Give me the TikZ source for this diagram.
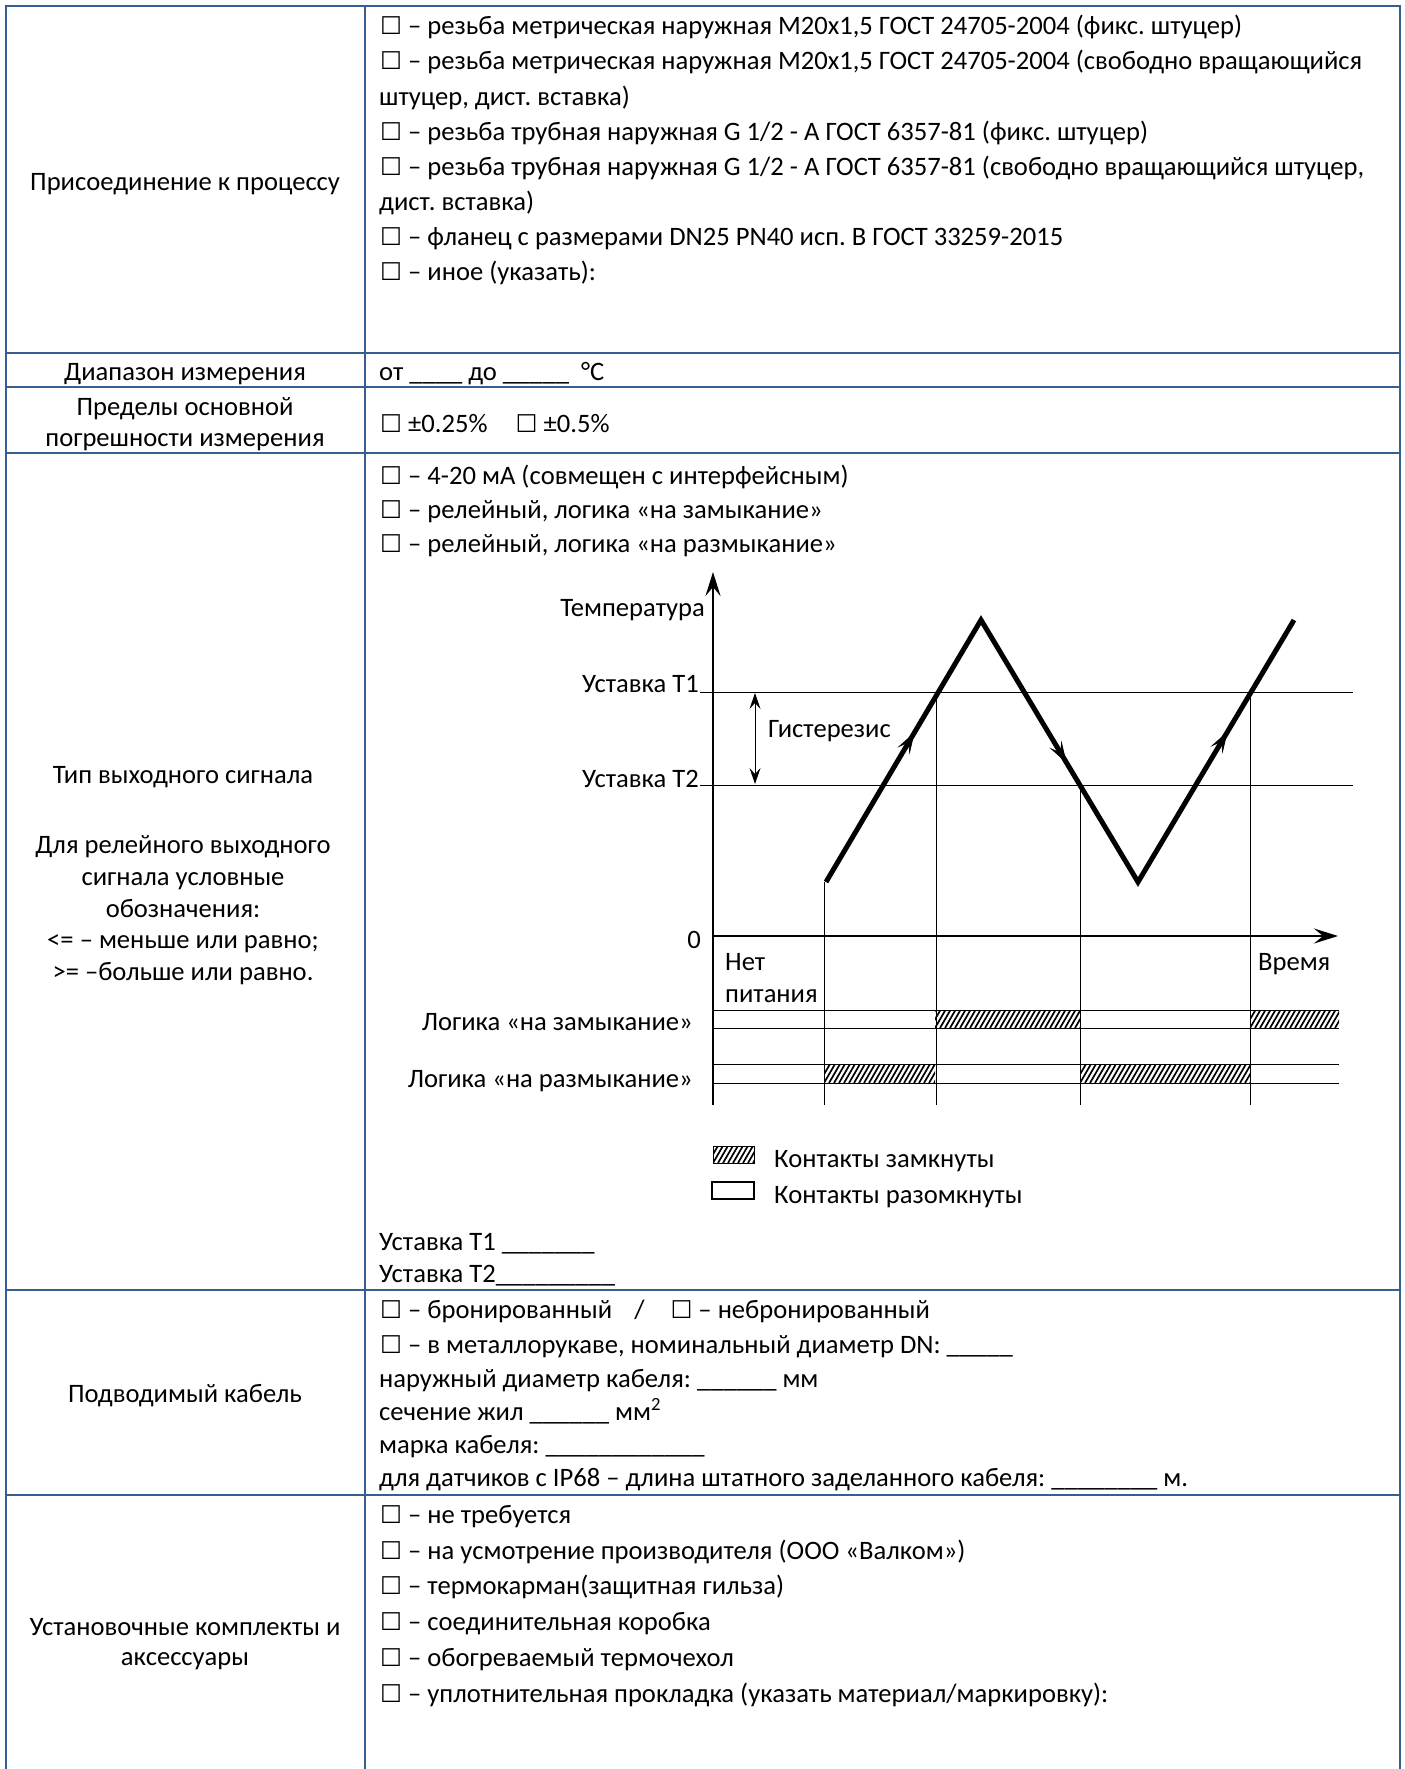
\documentclass[tikz,border=0pt]{standalone}
\usepackage{fontspec}
\setmainfont{Carlito}
\newfontfamily\symfont{DejaVu Sans}
\usetikzlibrary{arrows.meta,decorations.markings}
\definecolor{tblue}{RGB}{54,95,145}
\newcommand\bodyfont{\fontsize{26.6}{34}\selectfont\frenchspacing}
\newcommand\cbx{{\symfont\fontsize{24.5}{24}\selectfont ☐}}
\newcommand\hatchbox[4]{%
  \begin{scope}
    \clip (#1,#2) rectangle (#3,#4);
    \foreach \k in {-30,-25,...,260} {\draw[line width=1.7pt] ({#1+\k},#4) -- ++(11,-19);}
  \end{scope}}
\tikzset{
  txt/.style={inner sep=0pt, anchor=base west, font=\bodyfont},
  ctxt/.style={inner sep=0pt, anchor=base, font=\bodyfont},
  rtxt/.style={inner sep=0pt, anchor=base east, font=\bodyfont},
  gridline/.style={draw=tblue, line width=2pt},
  thinl/.style={line width=1pt},
  axisl/.style={line width=2.6pt},
  curvel/.style={line width=5pt, line join=miter, line cap=butt},
  bigtip/.tip={Stealth[length=24pt,width=15pt,inset=9pt]},
  midtip/.tip={Stealth[length=22pt,width=14pt,inset=10pt,line width=0.8pt]},
  hytip/.tip={Stealth[length=16pt,width=11pt,inset=6pt]},
}
\begin{document}
\begin{tikzpicture}[x=1pt,y=-1pt]
\useasboundingbox (0,0) rectangle (1405,1769);
\fill[white] (0,0) rectangle (1405,1769);

% ---- table grid ----
\draw[gridline] (6,1769) -- (6,6) -- (1400,6) -- (1400,1769);
\draw[gridline] (365,6) -- (365,1769);
\foreach \yy in {353,387,453,1290,1495} \draw[gridline] (6,\yy) -- (1400,\yy);

% ---- left column ----
\node[ctxt] (l1) at (185,190) {Присоединение к процессу};
\node[ctxt] (l2) at (185,380) {Диапазон измерения};
\node[ctxt] (l3a) at (185,415) {Пределы основной};
\node[ctxt] (l3b) at (185,446) {погрешности измерения};
\node[ctxt] (l4a) at (183,783) {Тип выходного сигнала};
\node[ctxt] (l4b) at (183,853) {Для релейного выходного};
\node[ctxt] (l4c) at (183,885) {сигнала условные};
\node[ctxt] (l4d) at (183,917) {обозначения:};
\node[ctxt] (l4e) at (183,948) {<= – меньше или равно;};
\node[ctxt] (l4f) at (183,980) {>= –больше или равно.};
\node[ctxt] (l5) at (185,1402) {Подводимый кабель};
\node[ctxt] (l6a) at (185,1635) {Установочные комплекты и};
\node[ctxt] (l6b) at (185,1665) {аксессуары};

% ---- row 1 ----
\node[txt] (r1a) at (380,35) {\cbx{} – резьба метрическая наружная М20х1,5 ГОСТ 24705-2004 (фикс. штуцер)};
\node[txt] (r1b) at (380,70) {\cbx{} – резьба метрическая наружная М20х1,5 ГОСТ 24705-2004 (свободно вращающийся};
\node[txt] (r1c) at (379,105) {штуцер, дист. вставка)};
\node[txt] (r1d) at (380,140) {\cbx{} – резьба трубная наружная G 1/2 - А ГОСТ 6357-81 (фикс. штуцер)};
\node[txt] (r1e) at (380,175) {\cbx{} – резьба трубная наружная G 1/2 - А ГОСТ 6357-81 (свободно вращающийся штуцер,};
\node[txt] (r1f) at (379,210) {дист. вставка)};
\node[txt] (r1g) at (380,245) {\cbx{} – фланец с размерами DN25 PN40 исп. В ГОСТ 33259-2015};
\node[txt] (r1h) at (380,280) {\cbx{} – иное (указать):};

% ---- row 2, 3 ----
\node[txt] (r2) at (379,380) {от \_\_\_\_ до \_\_\_\_\_ \ °C};
\node[txt] (r3) at (380,432) {\cbx{} ±0.25\%\hspace{28pt}\cbx{} ±0.5\%};

% ---- row 4 ----
\node[txt] (r4a) at (380,484) {\cbx{} – 4-20 мА (совмещен с интерфейсным)};
\node[txt] (r4b) at (380,518) {\cbx{} – релейный, логика «на замыкание»};
\node[txt] (r4c) at (380,552) {\cbx{} – релейный, логика «на размыкание»};
\node[txt] (r4d) at (379,1250) {Уставка T1 \_\_\_\_\_\_\_};
\node[txt] (r4e) at (379,1282) {Уставка T2\_\_\_\_\_\_\_\_\_};

% ---- chart ----
\draw[axisl, -bigtip] (713,1105) -- (713,572);
\draw[axisl, -bigtip] (713,936) -- (1338,936);
\draw[thinl] (700,692) -- (1353,692);
\draw[thinl] (700,785) -- (1353,785);
\draw[thinl] (824,882) -- (824,1105);
\draw[thinl] (936,692) -- (936,1105);
\draw[thinl] (1080,785) -- (1080,1105);
\draw[thinl] (1250,692) -- (1250,1105);
\draw[thinl, hytip-hytip] (755,693) -- (755,784);
\draw[curvel, postaction={decorate}, decoration={markings,
   mark=at position 174pt with {\arrow{midtip}},
   mark=at position 471pt with {\arrow{midtip}},
   mark=at position 785pt with {\arrow{midtip}}}]
   (826,882) -- (981,620) -- (1138,882) -- (1294,620);

\node[rtxt] (temp) at (705,616) {Температура};
\node[rtxt] (ust1) at (699,692) {Уставка T1};
\node[rtxt] (ust2) at (699,787) {Уставка T2};
\node[txt] (hyst) at (768,737) {Гистерезис};
\node[rtxt] (zero) at (701,948) {0};
\node[txt] (net) at (725,970) {Нет};
\node[txt] (pit) at (725,1002) {питания};
\node[txt] (vrem) at (1258,970) {Время};

% logic rows
\hatchbox{935}{1010}{1080}{1028}
\hatchbox{1250}{1010}{1339}{1028}
\hatchbox{824}{1064}{935}{1083}
\hatchbox{1080}{1064}{1250}{1083}
\draw[thinl] (713,1010) -- (1339,1010);
\draw[thinl] (713,1028) -- (1339,1028);
\draw[thinl] (713,1064) -- (1339,1064);
\draw[thinl] (713,1083) -- (1339,1083);
\node[rtxt] (lz) at (693,1030) {Логика «на замыкание»};
\node[rtxt] (lr) at (693,1087) {Логика «на размыкание»};

% legend
\hatchbox{713}{1146}{754}{1163}
\draw[thinl] (713,1146) rectangle (754,1163);
\draw[line width=1.4pt] (712,1182) rectangle (754,1199);
\node[txt] (leg1) at (774,1167) {Контакты замкнуты};
\node[txt] (leg2) at (774,1203) {Контакты разомкнуты};

% ---- row 5 ----
\node[txt] (r5a) at (380,1318) {\cbx{} – бронированный\hspace{22pt}/\hspace{26pt}\cbx{} – небронированный};
\node[txt] (r5b) at (380,1353) {\cbx{} – в металлорукаве, номинальный диаметр DN: \_\_\_\_\_};
\node[txt] (r5c) at (379,1387) {наружный диаметр кабеля: \_\_\_\_\_\_ мм};
\node[txt] (r5d) at (379,1420) {сечение жил \_\_\_\_\_\_ мм\textsuperscript{2}};
\node[txt] (r5e) at (379,1453) {марка кабеля: \_\_\_\_\_\_\_\_\_\_\_\_};
\node[txt] (r5f) at (379,1486) {для датчиков с IP68 – длина штатного заделанного кабеля: \_\_\_\_\_\_\_\_ м.};

% ---- row 6 ----
\node[txt] (r6a) at (380,1523) {\cbx{} – не требуется};
\node[txt] (r6b) at (380,1559) {\cbx{} – на усмотрение производителя (ООО «Валком»)};
\node[txt] (r6c) at (380,1594) {\cbx{} – термокарман(защитная гильза)};
\node[txt] (r6d) at (380,1630) {\cbx{} – соединительная коробка};
\node[txt] (r6e) at (380,1666) {\cbx{} – обогреваемый термочехол};
\node[txt] (r6f) at (380,1702) {\cbx{} – уплотнительная прокладка (указать материал/маркировку):};
\end{tikzpicture}
\end{document}
